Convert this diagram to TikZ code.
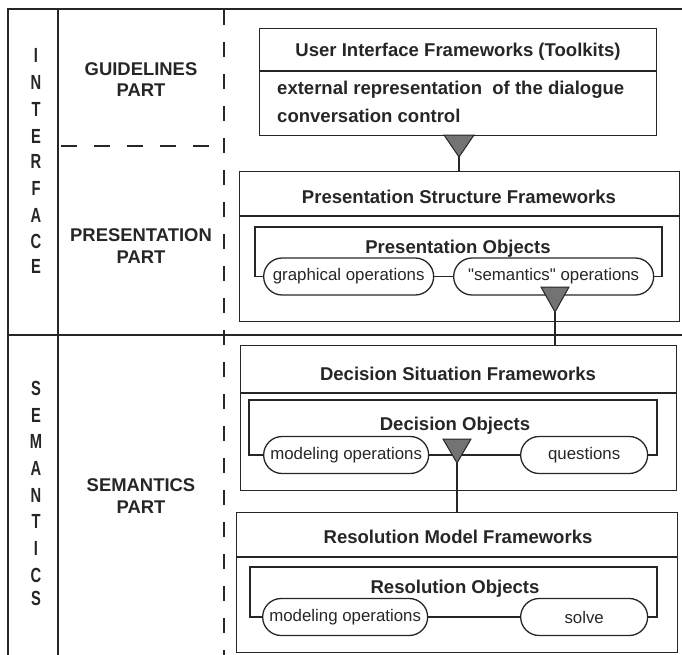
\documentclass[tikz,border=0pt]{standalone}
\usepackage{fontspec}
\setmainfont{Liberation Sans}
\newfontfamily\condfont[FakeStretch=0.72]{Liberation Sans}
\usetikzlibrary{shapes.misc}
\definecolor{ink}{gray}{0.15}
\begin{document}
\begin{tikzpicture}[x=1bp,y=-1bp,
  frame/.style={line width=1.4bp, draw=ink},
  fwbox/.style={draw=ink, line width=1.3bp, inner sep=0pt, anchor=north west},
  conn/.style={draw=ink, line width=1.3bp},
  title/.style={font=\bfseries\fontsize{18.6}{21}\selectfont, text=ink, inner sep=0pt, anchor=base},
  body/.style={font=\bfseries\fontsize{18.6}{21}\selectfont, text=ink, inner sep=0pt, anchor=base west},
  lbl/.style={font=\bfseries\fontsize{18.5}{22}\selectfont, text=ink, inner sep=0pt, anchor=base},
  vlet/.style={font=\condfont\bfseries\fontsize{20.5}{22}\selectfont, text=ink, inner sep=0pt, anchor=base},
  pill/.style={rounded rectangle, draw=ink, line width=1.3bp, font=\fontsize{16.9}{20}\selectfont, text=ink, inner sep=0pt, anchor=west, minimum height=37bp},
  tri/.style={fill=black!55, draw=ink, line width=1bp, line join=miter}
]
\useasboundingbox (0,0) rectangle (682,655);

% frame
\draw[frame] (682,9) -- (8,9) -- (8,655);
\draw[frame] (58,9) -- (58,655);
\draw[frame] (8,335) -- (682,335);
\draw[frame, dash pattern=on 15bp off 17bp] (224,10) -- (224,655);
\draw[frame, dash pattern=on 16bp off 17bp] (61,146) -- (214,146);

% vertical words
\foreach \l/\y in {I/63,N/90,T/117,E/143,R/168,F/195,A/222,C/248,E/273}
  \node[vlet] at (36,\y) {\l};
\foreach \l/\y in {S/395,E/422,M/448,A/475,N/502,T/528,I/555,C/582,S/605}
  \node[vlet] at (36,\y) {\l};

% part labels
\node[lbl] (g1) at (141,76) {GUIDELINES};
\node[lbl] (g2) at (141,97) {PART};
\node[lbl] (pr1) at (141,241) {PRESENTATION};
\node[lbl] (pr2) at (141,263) {PART};
\node[lbl] (s1) at (141,491) {SEMANTICS};
\node[lbl] (s2) at (141,513) {PART};

% box 1
\node[fwbox, minimum width=397bp, minimum height=107bp] (b1) at (259,28) {};
\draw[conn] (b1.west |- 0,71) -- (b1.east |- 0,71);
\node[title] (b1t) at (458,57) {User Interface Frameworks (Toolkits)};
\node[body] (b1a) at (277,95) {external representation\ \ of the dialogue};
\node[body] (b1b) at (277,123) {conversation control};

% box 2
\node[fwbox, minimum width=440bp, minimum height=150bp] (b2) at (239,171) {};
\draw[conn] (b2.west |- 0,216) -- (b2.east |- 0,216);
\node[title] (b2t) at (459,203) {Presentation Structure Frameworks};
\node[title] (o2t) at (458,253) {Presentation Objects};
\node[pill, minimum width=170bp] (p1) at (263,276.5) {graphical operations};
\node[pill, minimum width=200bp] (p2) at (453,276.5) {\textquotedbl semantics\textquotedbl\ operations};
\coordinate (k2l) at (255,227);
\coordinate (k2r) at (662,227);
\draw[conn] (p1.west) -| (k2l) -- (k2r) |- (p2.east);
\draw[conn] (p1.east) -- (p2.west);

% triangle 1
\coordinate (t1) at (459,157);
\filldraw[tri] (444,135) -- (474,135) -- (t1) -- cycle;
\draw[conn] (t1) -- (t1 |- b2.north);

% box 3
\node[fwbox, minimum width=436bp, minimum height=145bp] (b3) at (240,345) {};
\draw[conn] (b3.west |- 0,393) -- (b3.east |- 0,393);
\node[title] (b3t) at (458,380) {Decision Situation Frameworks};
\node[title] (o3t) at (455,430) {Decision Objects};
\node[pill, minimum width=165bp] (p3) at (263,455) {modeling operations};
\node[pill, minimum width=127bp] (p4) at (520,455) {questions};
\coordinate (k3l) at (249,400);
\coordinate (k3r) at (657,400);
\draw[conn] (p3.west) -| (k3l) -- (k3r) |- (p4.east);
\draw[conn] (p3.east) -- (p4.west);

% triangle 2
\coordinate (t2) at (555,312);
\filldraw[tri] (541,287) -- (569,287) -- (t2) -- cycle;
\draw[conn] (t2) -- (t2 |- b3.north);

% box 4
\node[fwbox, minimum width=441bp, minimum height=140bp] (b4) at (236,512) {};
\draw[conn] (b4.west |- 0,557) -- (b4.east |- 0,557);
\node[title] (b4t) at (458,543) {Resolution Model Frameworks};
\node[title] (o4t) at (455,593) {Resolution Objects};
\node[pill, minimum width=165bp] (p5) at (262,617) {modeling operations};
\node[pill, minimum width=127bp] (p6) at (520,617) {solve};
\coordinate (k4l) at (250,567);
\coordinate (k4r) at (657,567);
\draw[conn] (p5.west) -| (k4l) -- (k4r) |- (p6.east);
\draw[conn] (p5.east) -- (p6.west);

% triangle 3
\coordinate (t3) at (457,463);
\filldraw[tri] (443,439) -- (471,439) -- (t3) -- cycle;
\draw[conn] (t3) -- (t3 |- b4.north);
\end{tikzpicture}
\end{document}
